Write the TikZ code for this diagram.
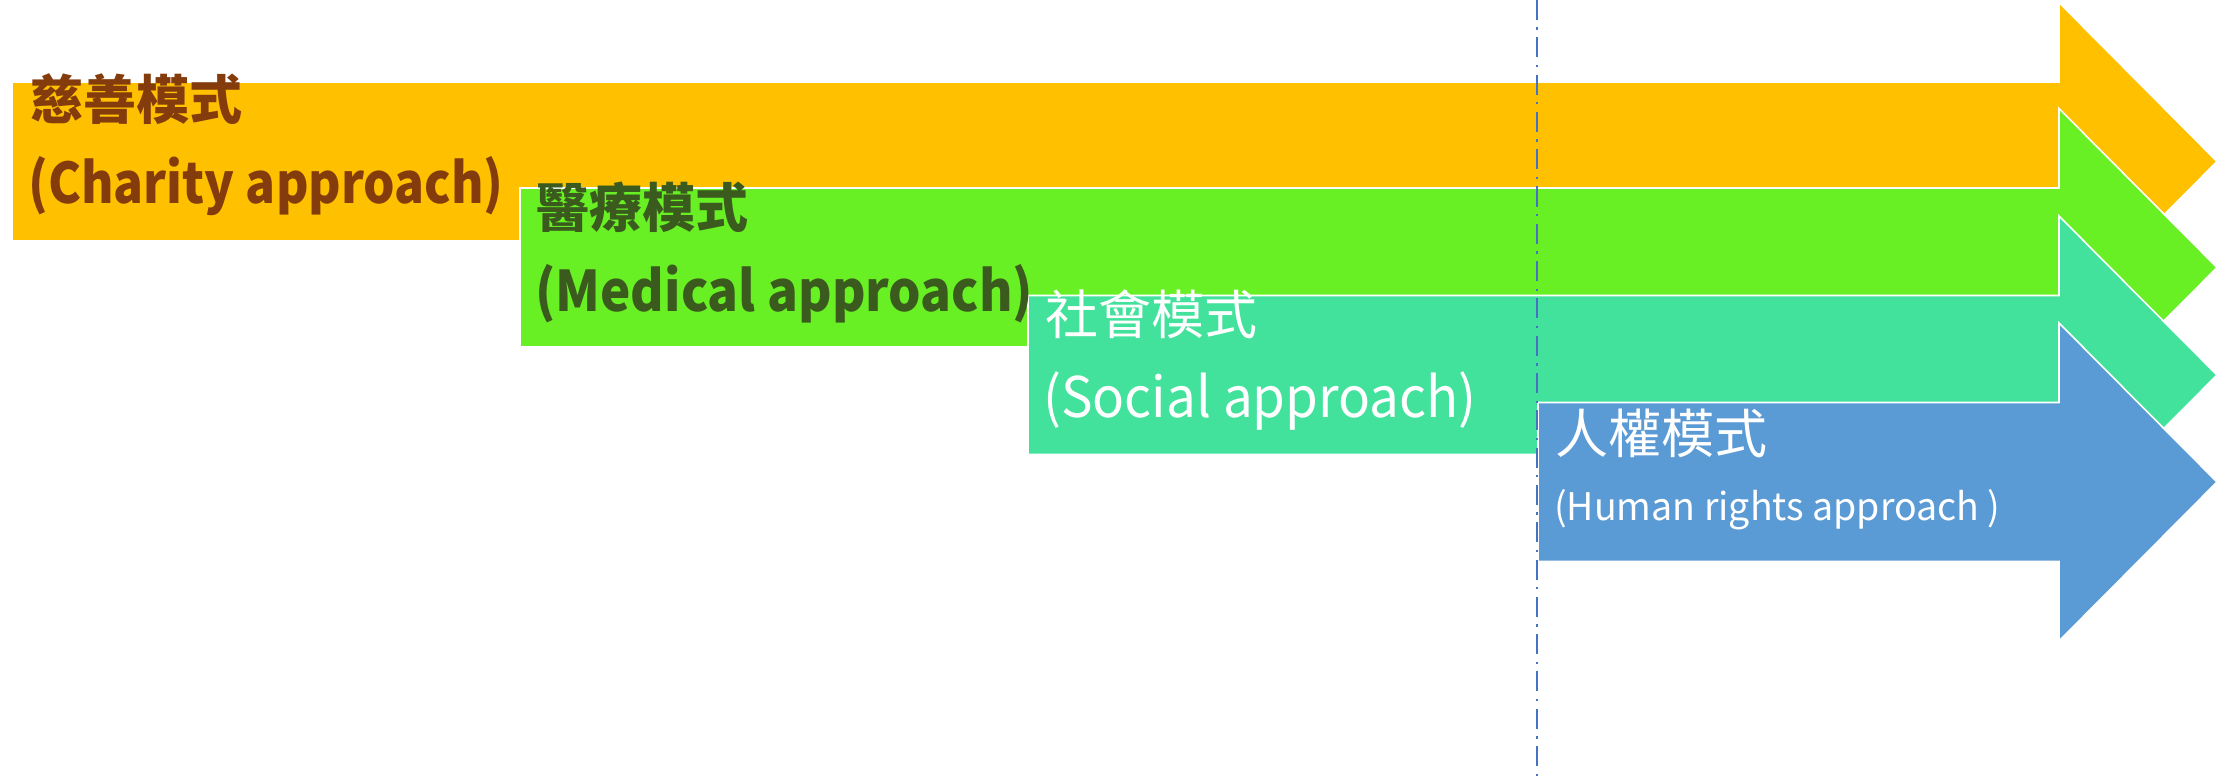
\documentclass[tikz,border=0pt]{standalone}
\usepackage{fontspec}
\newfontfamily\cjk{Noto Sans CJK TC}
\definecolor{corange}{HTML}{FFC000}
\definecolor{cgreen}{HTML}{68F024}
\definecolor{cteal}{HTML}{42E29C}
\definecolor{cblue}{HTML}{5B9BD5}
\definecolor{tbrown}{HTML}{843C0C}
\definecolor{tgreen}{HTML}{3A5A1E}
\definecolor{cline}{HTML}{4472C4}
\tikzset{
  arrowshape/.style={draw=white, line width=1.6pt, line join=miter},
  cjklabel/.style={anchor=base west, inner sep=0pt, font=\cjk\fontsize{53}{60}\selectfont},
  latlabel/.style={anchor=base west, inner sep=0pt, font=\cjk\fontsize{56}{64}\selectfont},
  smalllabel/.style={anchor=base west, inner sep=0pt, font=\cjk\fontsize{38}{44}\selectfont},
  guideline/.style={draw=cline, line width=2.2pt, dash pattern=on 20pt off 7.5pt on 2.3pt off 7.5pt}
}
\newcommand{\bigarrow}[3]{% left x, center y, colour
  \fill[#3, arrowshape] (#1,#2-79.5) -- (2059,#2-79.5) -- (2059,#2-159) -- (2217,#2)
    -- (2059,#2+159) -- (2059,#2+79.5) -- (#1,#2+79.5) -- cycle;}
\begin{document}
\begin{tikzpicture}[x=1pt,y=-1pt]
\useasboundingbox (0,0) rectangle (2234,778);
\bigarrow{12}{161.5}{corange}
\bigarrow{520}{267.5}{cgreen}
\bigarrow{1028}{375}{cteal}
\bigarrow{1538}{482}{cblue}

\node[cjklabel, text=tbrown, font=\cjk\bfseries\fontsize{53}{60}\selectfont] (ch1) at (30,120) {慈善模式};
\node[latlabel, text=tbrown, font=\cjk\bfseries\fontsize{56}{64}\selectfont] (ch2) at (28,204) {\scalebox{0.885}[1]{(Charity approach)}};
\node[cjklabel, text=tgreen, font=\cjk\bfseries\fontsize{53}{60}\selectfont] (me1) at (536,227) {醫療模式};
\node[latlabel, text=tgreen, font=\cjk\bfseries\fontsize{56}{64}\selectfont] (me2) at (535,311) {\scalebox{0.913}[1]{(Medical approach)}};
\node[cjklabel, text=white] (so1) at (1045,334) {社會模式};
\node[latlabel, text=white] (so2) at (1043,417) {\scalebox{0.946}[1]{(Social approach)}};
\node[cjklabel, text=white] (hu1) at (1555,453) {人權模式};
\node[smalllabel, text=white] (hu2) at (1554,520) {\scalebox{0.987}[1]{(Human rights approach )}};

\coordinate (gtop) at (1537,0);
\coordinate (gbot) at (1537,778);
\draw[guideline] (gtop) -- (gbot);
\end{tikzpicture}
\end{document}
